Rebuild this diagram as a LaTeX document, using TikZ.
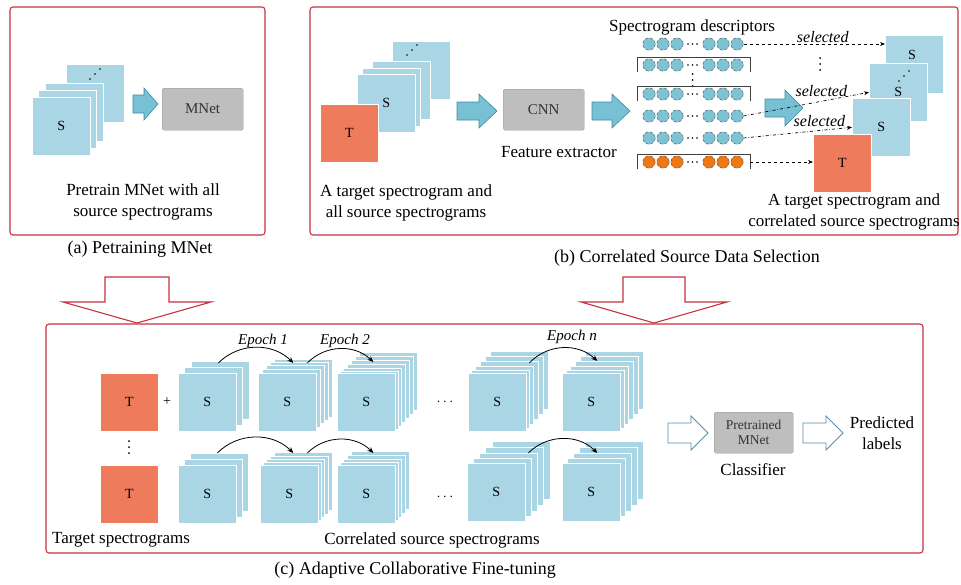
\documentclass[tikz,border=0pt]{standalone}
\usepackage{fontspec}
\setmainfont{Liberation Serif}
\usetikzlibrary{arrows.meta}
\definecolor{redb}{RGB}{200,50,62}
\definecolor{specblue}{RGB}{170,213,228}
\definecolor{torange}{RGB}{238,124,92}
\definecolor{arrfill}{RGB}{120,192,212}
\definecolor{arrdraw}{RGB}{60,140,165}
\definecolor{boxgray}{RGB}{190,190,190}
\definecolor{descblue}{RGB}{125,195,212}
\definecolor{descorange}{RGB}{240,120,20}
\definecolor{openarr}{RGB}{90,143,168}
\tikzset{
  panel/.style={draw=redb, line width=1.1pt, rounded corners=3pt},
  sq/.style={rectangle, fill=specblue, draw=white, line width=0.6pt, minimum width=58pt, minimum height=58pt, inner sep=0pt, anchor=north west, font=\fontsize{14}{16}\selectfont},
  tsq/.style={sq, fill=torange},
  graybox/.style={rectangle, fill=boxgray, draw=boxgray!80!black, line width=0.3pt, rounded corners=1.5pt, inner sep=0pt, anchor=north west, text=black!80},
  bluearr/.style={fill=arrfill, draw=arrdraw, line width=0.6pt, line join=miter},
  openarrow/.style={fill=white, draw=openarr, line width=0.8pt},
  downarrow/.style={fill=white, draw=redb, line width=1.1pt},
  txt/.style={font=\fontsize{17}{21}\selectfont, align=center, inner sep=0pt},
  captxt/.style={font=\fontsize{18}{20}\selectfont, inner sep=0pt},
  sel/.style={font=\fontsize{16}{18}\selectfont\itshape, inner sep=1pt},
  eplab/.style={font=\fontsize{15}{17}\selectfont\itshape, inner sep=1pt},
  desc/.style={draw=black!70, densely dashed, line width=0.4pt},
  brk/.style={draw=black!75, line width=0.6pt},
  dsel/.style={dashed, line width=0.7pt, -{Stealth[length=5pt,width=4pt]}},
  ddsel/.style={dash dot, line width=0.7pt, -{Stealth[length=5pt,width=4pt]}},
  epoch/.style={-{Stealth[length=6pt,width=5pt]}, line width=0.8pt, bend left=45},
}
\newcommand\spstack[5]{%
  \foreach \dx/\dy [count=\k] in {#4} {\node[sq] (#1b\k) at ({#2+\dx},{#3-\dy}) {};}
  \node[sq] (#1) at (#2,#3) {#5};}
\newcommand\fatarr[7]{%
  \draw[#1] (#2,{#4-#6}) -- ({#3-#7},{#4-#6}) -- ({#3-#7},{#4-#5}) -- (#3,#4) -- ({#3-#7},{#4+#5}) -- ({#3-#7},{#4+#6}) -- (#2,{#4+#6}) -- cycle;}
\newcommand\descrow[3]{%
  \foreach \cx in {649,663,677,709,723,737}{\draw[desc,fill=#2] (\cx,#1) circle[radius=6.2];}
  \foreach \cx in {688,692.5,697}{\fill (\cx,#1) circle[radius=0.9];}
  \coordinate (#3) at (743.5,#1);}
\newcommand\vdts[2]{\foreach \dd in {-6,0,6}{\fill (#1,{#2+\dd}) circle[radius=1];}}
\newcommand\ddts[2]{\foreach \dd in {-5,0,5}{\fill ({#1+\dd},{#2-\dd}) circle[radius=0.9];}}
\begin{document}
\begin{tikzpicture}[x=1pt,y=-1pt]
\useasboundingbox[fill=white] (0,0) rectangle (961,584);
% ---------------- panel (a)
\draw[panel] (10,7) rectangle (265,235);
\spstack{sa}{32}{97}{34/33, 13/14, 6/7}{S}
\ddts{95}{74}
\fatarr{bluearr}{133}{158}{104}{16}{9}{14}
\node[graybox, minimum width=81pt, minimum height=42pt, font=\fontsize{15}{17}\selectfont] (mnet) at (162,88) {MNet};
\node[txt] (ta) at (143,202) {Pretrain MNet with all\\source spectrograms};
\node[captxt] (capa) at (140,249) {(a) Petraining MNet};
% ---------------- panel (b)
\draw[panel] (310,7) rectangle (958,235);
\spstack{sb}{357}{74}{35/33, 15/13, 5/6}{S}
\ddts{412}{50}
\node[tsq] (tb) at (320,104) {T};
\fatarr{bluearr}{457}{497}{111}{17}{9}{18}
\node[graybox, minimum width=81pt, minimum height=41pt, font=\fontsize{15}{17}\selectfont] (cnn) at (503,89) {CNN};
\node[txt] (fe) at (559,152) {Feature extractor};
\fatarr{bluearr}{592}{630}{111}{17}{9}{18}
\node[txt] (tb1) at (406,203) {A target spectrogram and\\all source spectrograms};
\node[txt] (sd) at (692,27) {Spectrogram descriptors};
\descrow{44}{descblue}{d1}
\descrow{65}{descblue}{d2}
\vdts{692.5}{80}
\descrow{94}{descblue}{d3}
\descrow{116}{descblue}{d4}
\descrow{138}{descblue}{d5}
\descrow{162}{descorange}{d6}
\foreach \ry in {65,94,162}{\draw[brk] (637,{\ry+7}) -- (637,{\ry-8}) -- (750,{\ry-8}) -- (750,{\ry+7});}
\fatarr{bluearr}{765}{803}{108}{18}{9}{18}
% right stack
\node[sq] (bS) at (885,35) {};
\node[font=\fontsize{14}{16}\selectfont, inner sep=0pt] (bSl) at (912,55) {S};
\node[sq] (bS2) at (869,63) {S};
\ddts{904}{76}
\node[sq] (bS3) at (852,98) {S};
\node[tsq] (tR) at (813,134) {T};
\draw[dsel] (d1) -- (d1 -| bS.west) node[sel, pos=0.56, above] {selected};
\vdts{820}{64}
\draw[ddsel] (d4) -- (bS2.west) node[sel, pos=0.62, above=3pt] {selected};
\draw[ddsel] (d5) -- (bS3.west) node[sel, pos=0.7, above=2pt] {selected};
\draw[dsel] (d6) ++(6.5,0) -- (d6 -| tR.west);
\node[txt] (tb2) at (854,212) {A target spectrogram and\\correlated source spectrograms};
\node[captxt] (capb) at (687,258) {(b) Correlated Source Data Selection};
% ---------------- big down arrows
\draw[downarrow] (105,277) -- (169,277) -- (169,302) -- (211,302) -- (137,323) -- (63,302) -- (105,302) -- cycle;
\draw[downarrow] (623,277) -- (685,277) -- (685,302) -- (727,302) -- (654,323) -- (581,302) -- (623,302) -- cycle;
% ---------------- panel (c)
\draw[panel] (46,324) rectangle (923,553);
\node[tsq] (tc1) at (100,373) {T};
\node[tsq] (tc2) at (100,465) {T};
\vdts{129}{447}
\node[font=\fontsize{14}{16}\selectfont, inner sep=0pt] (plus) at (167,402) {+};
% row 1
\spstack{s11}{178}{373}{13/12, 6/6}{S}
\spstack{s12}{258}{373}{16/14, 12/11, 8/8, 4/4}{S}
\spstack{s13}{337}{373}{22/21, 18/17, 14/13, 10/9, 6/5, 3/2}{S}
\spstack{s14}{468}{373}{22/22, 17/17, 12/12, 7/7, 3/3}{S}
\spstack{s15}{562}{373}{23/22, 18/17, 13/12, 8/7, 4/3}{S}
% row 2
\spstack{s21}{178}{465}{12/12, 6/6}{S}
\spstack{s22}{260}{465}{14/13, 10/9, 6/6, 3/3}{S}
\spstack{s23}{337}{465}{14/14, 10/10, 6/6, 3/3}{S}
\spstack{s24}{467}{463}{25/22, 18/16, 12/10, 6/5}{S}
\spstack{s25}{562}{463}{23/22, 17/16, 11/10, 5/5}{S}
\node[font=\fontsize{14}{16}\selectfont, inner sep=0pt] (dots1) at (445,402) {$\cdots$};
\node[font=\fontsize{14}{16}\selectfont, inner sep=0pt] (dots2) at (445,497) {$\cdots$};
% epochs
\draw[epoch] ([shift={(11,-10)}]s11.north) to ([shift={(6,-10)}]s12.north);
\draw[epoch] ([shift={(20,-10)}]s12.north) to ([shift={(7,-11)}]s13.north);
\draw[epoch] ([shift={(32,-10)}]s14.north) to ([shift={(6,-12)}]s15.north);
\draw[epoch] ([shift={(10,-12)}]s21.north) to ([shift={(4,-12)}]s22.north);
\draw[epoch] ([shift={(18,-12)}]s22.north) to ([shift={(7,-12)}]s23.north);
\draw[epoch] ([shift={(32,-10)}]s24.north) to ([shift={(6,-10)}]s25.north);
\node[eplab] (e1) at (263,341) {Epoch 1};
\node[eplab] (e2) at (345,341) {Epoch 2};
\node[eplab] (en) at (572,337) {Epoch n};
\node[txt] (tsp) at (121,540) {Target spectrograms};
\node[txt] (csp) at (432,540) {Correlated source spectrograms};
% classifier
\fatarr{openarrow}{668}{708}{433}{17}{10}{17}
\node[graybox, minimum width=79pt, minimum height=41pt, font=\fontsize{13.5}{15}\selectfont, align=center] (pm) at (714,412) {Pretrained\\MNet};
\node[txt] (cls) at (753,470) {Classifier};
\fatarr{openarrow}{803}{843}{433}{17}{10}{17}
\node[txt] (pl) at (882,433) {Predicted\\labels};
\node[captxt] (capc) at (415,570) {(c) Adaptive Collaborative Fine-tuning};
\end{tikzpicture}
\end{document}
